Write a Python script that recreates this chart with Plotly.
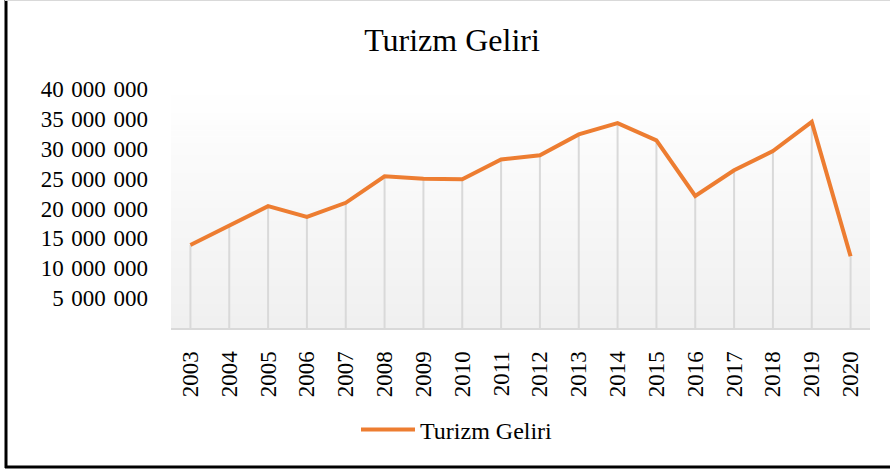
import plotly.graph_objects as go

years = [str(y) for y in range(2003, 2021)]
revenue = [13.9e6, 17.2e6, 20.4e6, 18.6e6, 20.95e6, 25.4e6, 25.0e6, 24.9e6, 28.2e6,
           28.9e6, 32.4e6, 34.3e6, 31.4e6, 22.1e6, 26.4e6, 29.6e6, 34.5e6, 12.0e6]
ytick_vals = [5e6, 10e6, 15e6, 20e6, 25e6, 30e6, 35e6, 40e6]
ytick_text = ["5\u2004000\u2004000", "10\u2004000\u2004000", "15\u2004000\u2004000",
              "20\u2004000\u2004000", "25\u2004000\u2004000", "30\u2004000\u2004000",
              "35\u2004000\u2004000", "40\u2004000\u2004000"]

W, H = 890, 472
ML, MR, MT, MB = 171, 20, 89, 144
PW, PH = W - ML - MR, H - MT - MB
FONT = "Liberation Serif"

# drop lines from each point to the axis
dx, dy = [], []
for x, y in zip(years, revenue):
    dx += [x, x, None]
    dy += [0, y, None]

fig = go.Figure()
fig.add_trace(go.Scatter(x=dx, y=dy, mode="lines", line=dict(color="#d9d9d9", width=2),
                         showlegend=False, hoverinfo="skip"))
fig.add_trace(go.Scatter(x=years, y=revenue, mode="lines", name="Turizm Geliri",
                         line=dict(color="#ED7D31", width=4)))

shapes = []
n = 40
for i in range(n):
    t = i / n
    c = int(round(255 - (255 - 240) * (1 - t)))
    shapes.append(dict(type="rect", xref="x domain", yref="y domain", x0=0, x1=1,
                       y0=t, y1=t + 1.0 / n + 0.002, line=dict(width=0),
                       fillcolor=f"rgb({c},{c},{c})", layer="below"))

def px_x(p):
    return (p - ML) / PW

def px_y(p):
    return (H - MB - p) / PH

shapes.append(dict(type="line", xref="paper", yref="paper", x0=px_x(6), x1=px_x(6),
                   y0=px_y(0), y1=px_y(468), line=dict(color="black", width=3)))
shapes.append(dict(type="line", xref="paper", yref="paper", x0=px_x(5), x1=px_x(890),
                   y0=px_y(467), y1=px_y(467), line=dict(color="black", width=3)))
shapes.append(dict(type="line", xref="paper", yref="paper", x0=px_x(5), x1=px_x(890),
                   y0=px_y(0.5), y1=px_y(0.5), line=dict(color="#d9d9d9", width=1)))

fig.update_layout(
    width=W, height=H,
    margin=dict(l=ML, r=MR, t=MT, b=MB),
    paper_bgcolor="white", plot_bgcolor="white",
    font=dict(family=FONT, color="black", size=22),
    title=dict(text="Turizm Geliri", x=452 / W, xanchor="center", y=1 - 40 / H,
               yanchor="middle", font=dict(family=FONT, size=32, color="black")),
    shapes=shapes,
    showlegend=True,
    legend=dict(orientation="h", x=px_x(356), xanchor="left", y=px_y(430),
                yanchor="middle", font=dict(family=FONT, size=24, color="black"),
                itemwidth=54, bgcolor="rgba(0,0,0,0)"),
    xaxis=dict(type="category", range=[-0.5, 17.5], showgrid=False, zeroline=False,
               showline=True, linecolor="#d9d9d9", linewidth=2, tickangle=-90,
               ticks="", ticklabelstandoff=12, tickfont=dict(size=23)),
    yaxis=dict(range=[0, 40e6], showgrid=False, zeroline=False, showline=False,
               tickvals=ytick_vals, ticktext=ytick_text, ticks="",
               ticklabelstandoff=22, tickfont=dict(size=23)),
)

fig.write_html("out.html", config={"displayModeBar": False},
               post_script="document.body.style.margin='0';document.body.style.overflow='hidden';")
